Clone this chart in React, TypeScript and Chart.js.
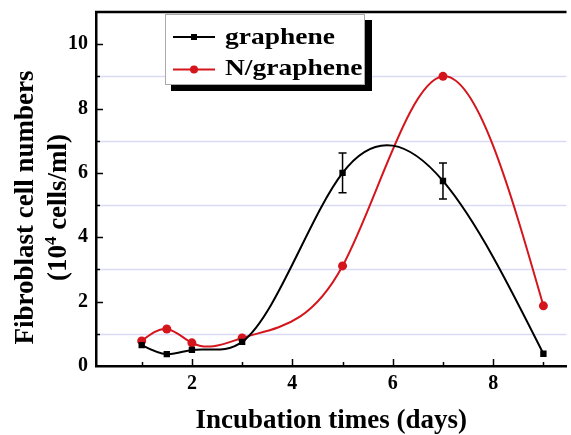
import React, { useEffect, useRef } from 'react';
import { Chart, registerables } from 'chart.js';

Chart.register(...registerables);

// ---- data ----
const days = [1, 1.5, 2, 3, 5, 7, 9];
const graphene = [0.65, 0.37, 0.5, 0.75, 6.0, 5.75, 0.38];
const grapheneErr = [0, 0, 0, 0, 0.62, 0.56, 0];
const nGraphene = [0.78, 1.15, 0.72, 0.87, 3.11, 9.0, 1.87];
const seriesLabels = ['graphene', 'N/graphene'];
const xTicks = [2, 4, 6, 8];
const xMinorTicks = [1, 3, 5, 7, 9];
const yTicks = [0, 2, 4, 6, 8, 10];
const yMinorTicks = [1, 3, 5, 7, 9];
const xTitle = 'Incubation times (days)';
const yTitleLine1 = 'Fibroblast cell numbers';
const yTitleLine2 = ['(10', '4', ' cells/ml)'];

const RED = '#d4161c';
const BLACK = '#000000';
const SERIF = '"Liberation Serif", "Times New Roman", serif';

const zeroPad = (s: any) => {
  s.paddingTop = 0;
  s.paddingBottom = 0;
  s.paddingLeft = 0;
  s.paddingRight = 0;
};

// slopes of a natural cubic spline through (X, Y)
function splineSlopes(X: number[], Y: number[]): number[] {
  const n = X.length;
  const h: number[] = [];
  for (let i = 0; i < n - 1; i++) h.push(X[i + 1] - X[i]);
  const M = new Array(n).fill(0);
  const m = n - 2;
  if (m > 0) {
    const a: number[] = [], b: number[] = [], c: number[] = [], r: number[] = [];
    for (let i = 1; i <= m; i++) {
      a.push(h[i - 1]);
      b.push(2 * (h[i - 1] + h[i]));
      c.push(h[i]);
      r.push(6 * ((Y[i + 1] - Y[i]) / h[i] - (Y[i] - Y[i - 1]) / h[i - 1]));
    }
    for (let i = 1; i < m; i++) {
      const w = a[i] / b[i - 1];
      b[i] -= w * c[i - 1];
      r[i] -= w * r[i - 1];
    }
    const sol = new Array(m).fill(0);
    sol[m - 1] = r[m - 1] / b[m - 1];
    for (let i = m - 2; i >= 0; i--) sol[i] = (r[i] - c[i] * sol[i + 1]) / b[i];
    for (let i = 0; i < m; i++) M[i + 1] = sol[i];
  }
  const d: number[] = [];
  for (let i = 0; i < n; i++) {
    if (i < n - 1) d.push((Y[i + 1] - Y[i]) / h[i] - (h[i] * (2 * M[i] + M[i + 1])) / 6);
    else d.push((Y[i] - Y[i - 1]) / h[i - 1] + (h[i - 1] * (M[i - 1] + 2 * M[i])) / 6);
  }
  return d;
}

const seriesY = [graphene, nGraphene];

const splinePlugin = {
  id: 'splineCurves',
  beforeDatasetsDraw(chart: any) {
    const xs = chart.scales.x;
    const ys = chart.scales.y;
    seriesY.forEach((Y, di) => {
      const meta = chart.getDatasetMeta(di);
      const pts = meta.data;
      const d = splineSlopes(days, Y);
      const n = days.length;
      pts.forEach((p: any, i: number) => {
        if (i > 0) {
          const h = days[i] - days[i - 1];
          p.cp1x = xs.getPixelForValue(days[i] - h / 3);
          p.cp1y = ys.getPixelForValue(Y[i] - (h / 3) * d[i]);
        } else {
          p.cp1x = p.x;
          p.cp1y = p.y;
        }
        if (i < n - 1) {
          const h = days[i + 1] - days[i];
          p.cp2x = xs.getPixelForValue(days[i] + h / 3);
          p.cp2y = ys.getPixelForValue(Y[i] + (h / 3) * d[i]);
        } else {
          p.cp2x = p.x;
          p.cp2y = p.y;
        }
      });
      meta.dataset._pointsUpdated = true;
      meta.dataset._path = undefined;
    });
  },
};

const decor = {
  id: 'decor',
  beforeDatasetsDraw(chart: any) {
    const { ctx, chartArea, scales } = chart;
    const { left, right } = chartArea;
    const y = scales.y;
    ctx.save();
    ctx.strokeStyle = '#dadaf6';
    ctx.lineWidth = 1.5;
    yMinorTicks.forEach((v) => {
      const py = Math.round(y.getPixelForValue(v)) + 0.5;
      ctx.beginPath();
      ctx.moveTo(left + 2, py);
      ctx.lineTo(right, py);
      ctx.stroke();
    });
    ctx.restore();
  },
  afterDatasetsDraw(chart: any) {
    const { ctx, scales } = chart;
    const x = scales.x;
    const y = scales.y;
    ctx.save();
    ctx.strokeStyle = BLACK;
    ctx.lineWidth = 1.5;
    days.forEach((d, i) => {
      const e = grapheneErr[i];
      if (!e) return;
      const px = x.getPixelForValue(d);
      const pt = y.getPixelForValue(graphene[i] + e);
      const pb = y.getPixelForValue(graphene[i] - e);
      ctx.beginPath();
      ctx.moveTo(px, pt);
      ctx.lineTo(px, pb);
      ctx.moveTo(px - 4, pt);
      ctx.lineTo(px + 4, pt);
      ctx.moveTo(px - 4, pb);
      ctx.lineTo(px + 4, pb);
      ctx.stroke();
    });
    ctx.restore();
  },
  afterDraw(chart: any) {
    const { ctx, chartArea, scales } = chart;
    const { left, right, top, bottom } = chartArea;
    const x = scales.x;
    const y = scales.y;
    ctx.save();
    // top border
    ctx.strokeStyle = BLACK;
    ctx.lineWidth = 2.5;
    ctx.beginPath();
    ctx.moveTo(left - 1, top);
    ctx.lineTo(right, top);
    ctx.stroke();
    // ticks (inward)
    ctx.lineWidth = 1.5;
    xTicks.forEach((v) => {
      const px = Math.round(x.getPixelForValue(v)) + 0.5;
      ctx.beginPath();
      ctx.moveTo(px, bottom);
      ctx.lineTo(px, bottom - 7);
      ctx.stroke();
    });
    xMinorTicks.forEach((v) => {
      const px = Math.round(x.getPixelForValue(v)) + 0.5;
      ctx.beginPath();
      ctx.moveTo(px, bottom);
      ctx.lineTo(px, bottom - 4);
      ctx.stroke();
    });
    yTicks.forEach((v) => {
      if (v === 0) return;
      const py = Math.round(y.getPixelForValue(v)) + 0.5;
      ctx.beginPath();
      ctx.moveTo(left, py);
      ctx.lineTo(left + 7, py);
      ctx.stroke();
    });
    yMinorTicks.forEach((v) => {
      const py = Math.round(y.getPixelForValue(v)) + 0.5;
      ctx.beginPath();
      ctx.moveTo(left, py);
      ctx.lineTo(left + 4, py);
      ctx.stroke();
    });

    // legend
    const bx = 165, by = 14, bw = 200, bh = 71;
    ctx.fillStyle = BLACK;
    ctx.fillRect(bx + 6, by + 6, bw + 1, bh + 0);
    ctx.fillStyle = '#ffffff';
    ctx.fillRect(bx, by, bw, bh);
    ctx.strokeStyle = '#aaaaaa';
    ctx.lineWidth = 1;
    ctx.strokeRect(bx + 0.5, by + 0.5, bw - 1, bh - 1);

    const rows = [
      { label: seriesLabels[0], color: BLACK, ly: 37, base: 44, rect: true },
      { label: seriesLabels[1], color: RED, ly: 69.5, base: 75, rect: false },
    ];
    ctx.font = `bold 23px ${SERIF}`;
    const target = 110;
    const sx = target / ctx.measureText(seriesLabels[0]).width;
    rows.forEach((r) => {
      ctx.strokeStyle = r.color;
      ctx.lineWidth = 2;
      ctx.beginPath();
      ctx.moveTo(173, r.ly);
      ctx.lineTo(215, r.ly);
      ctx.stroke();
      ctx.fillStyle = r.color;
      if (r.rect) {
        ctx.fillRect(194 - 3, r.ly - 3, 6, 6);
      } else {
        ctx.beginPath();
        ctx.arc(194, r.ly, 4, 0, Math.PI * 2);
        ctx.fill();
      }
      ctx.save();
      ctx.fillStyle = BLACK;
      ctx.textBaseline = 'alphabetic';
      ctx.textAlign = 'left';
      ctx.translate(225, r.base);
      ctx.scale(sx, 1);
      ctx.fillText(r.label, 0, 0);
      ctx.restore();
    });

    // y title
    const cy = 207.5;
    ctx.fillStyle = BLACK;
    ctx.textBaseline = 'alphabetic';
    ctx.save();
    ctx.translate(33, cy);
    ctx.rotate(-Math.PI / 2);
    ctx.font = `bold 27px ${SERIF}`;
    ctx.textAlign = 'center';
    ctx.fillText(yTitleLine1, 0, 0);
    ctx.restore();

    ctx.save();
    ctx.translate(66, cy);
    ctx.rotate(-Math.PI / 2);
    ctx.textAlign = 'left';
    const bigFont = `bold 27px ${SERIF}`;
    const smallFont = `bold 17px ${SERIF}`;
    ctx.font = bigFont;
    const w1 = ctx.measureText(yTitleLine2[0]).width;
    const w3 = ctx.measureText(yTitleLine2[2]).width;
    ctx.font = smallFont;
    const w2 = ctx.measureText(yTitleLine2[1]).width;
    const sx0 = -(w1 + w2 + w3) / 2;
    ctx.font = bigFont;
    ctx.fillText(yTitleLine2[0], sx0, 0);
    ctx.font = smallFont;
    ctx.fillText(yTitleLine2[1], sx0 + w1, -10);
    ctx.font = bigFont;
    ctx.fillText(yTitleLine2[2], sx0 + w1 + w2, 0);
    ctx.restore();

    ctx.restore();
  },
};

export default function App() {
  const ref = useRef<HTMLCanvasElement | null>(null);
  useEffect(() => {
    if (!ref.current) return;
    const chart = new Chart(ref.current, {
      type: 'line',
      data: {
        datasets: [
          {
            label: seriesLabels[0],
            data: days.map((d, i) => ({ x: d, y: graphene[i] })),
            borderColor: BLACK,
            backgroundColor: BLACK,
            borderWidth: 2,
            pointStyle: 'rect',
            pointRadius: 4.5,
            pointBorderWidth: 0,
            tension: 0.4,
          },
          {
            label: seriesLabels[1],
            data: days.map((d, i) => ({ x: d, y: nGraphene[i] })),
            borderColor: RED,
            backgroundColor: RED,
            borderWidth: 2,
            pointStyle: 'circle',
            pointRadius: 4.5,
            pointBorderWidth: 0,
            tension: 0.4,
          },
        ],
      },
      options: {
        animation: false,
        responsive: false,
        layout: { padding: { top: 12, right: 0, left: 0, bottom: 0 } },
        plugins: { legend: { display: false }, tooltip: { enabled: false } },
        scales: {
          x: {
            type: 'linear',
            min: 0.09,
            max: 9.46,
            afterBuildTicks: (s: any) => {
              s.ticks = xTicks.map((v) => ({ value: v }));
            },
            afterFit: (s: any) => {
              s.height = 69;
              zeroPad(s);
            },
            grid: { display: false, drawTicks: false },
            border: { display: true, color: BLACK, width: 2.5 },
            ticks: {
              color: BLACK,
              padding: 6,
              font: { family: SERIF, size: 20, weight: 'bold' },
            },
            title: {
              display: true,
              text: xTitle,
              color: BLACK,
              padding: { top: 0, bottom: 0 },
              font: { family: SERIF, size: 27, weight: 'bold', lineHeight: 1.04 },
            },
          },
          y: {
            type: 'linear',
            min: 0,
            max: 11,
            afterBuildTicks: (s: any) => {
              s.ticks = yTicks.map((v) => ({ value: v }));
            },
            afterFit: (s: any) => {
              s.width = 96;
              zeroPad(s);
            },
            grid: { display: false, drawTicks: false },
            border: { display: true, color: BLACK, width: 2.5 },
            ticks: {
              color: BLACK,
              padding: 8,
              font: { family: SERIF, size: 20, weight: 'bold' },
            },
          },
        },
      },
      plugins: [splinePlugin, decor],
    });
    return () => chart.destroy();
  }, []);
  return (
    <div style={{ position: 'fixed', left: 0, top: 0, width: 571, height: 435, background: '#fff' }}>
      <canvas ref={ref} width={571} height={435} />
    </div>
  );
}
